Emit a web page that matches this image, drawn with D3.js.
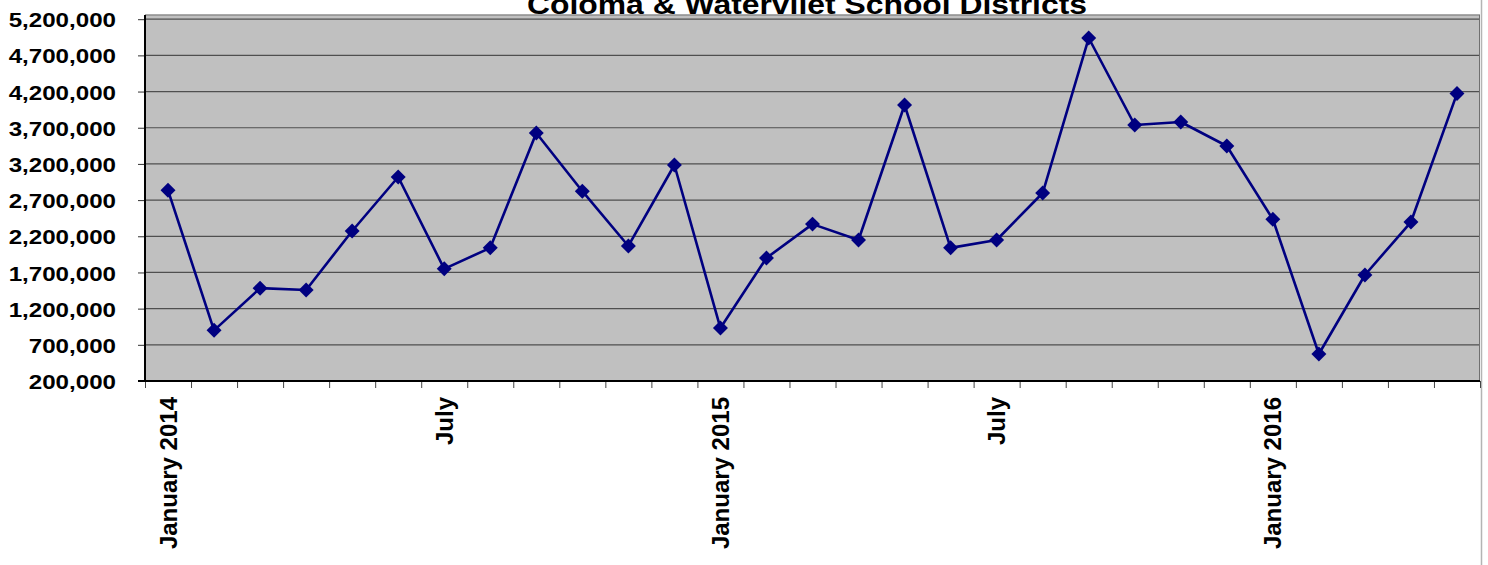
<!DOCTYPE html>
<html>
<head>
<meta charset="utf-8">
<script src="https://cdn.jsdelivr.net/npm/d3@7"></script>
<style>
  body { margin: 0; background: #fff; }
  svg { display: block; }
  text { font-family: "Liberation Sans", Arial, sans-serif; font-weight: bold; fill: #000; }
</style>
</head>
<body>
<div id="chart"></div>
<script>
var w = 1488;
var h = 565;

var months = ['Jan 2014', 'Feb 2014', 'Mar 2014', 'Apr 2014', 'May 2014', 'Jun 2014',
  'Jul 2014', 'Aug 2014', 'Sep 2014', 'Oct 2014', 'Nov 2014', 'Dec 2014',
  'Jan 2015', 'Feb 2015', 'Mar 2015', 'Apr 2015', 'May 2015', 'Jun 2015',
  'Jul 2015', 'Aug 2015', 'Sep 2015', 'Oct 2015', 'Nov 2015', 'Dec 2015',
  'Jan 2016', 'Feb 2016', 'Mar 2016', 'Apr 2016', 'May 2016'];

var values = [2835000, 900000, 1483000, 1458000, 2273000, 3019000,
  1750000, 2040000, 3627000, 2823000, 2066000, 3185000,
  932000, 1900000, 2368000, 2149000, 4014000, 2040000,
  2149000, 2798000, 4940000, 3738000, 3779000, 3448000,
  2435000, 573000, 1665000, 2397000, 4172000];

var labelMonths = ['Jan 2014', 'Jul 2014', 'Jan 2015', 'Jul 2015', 'Jan 2016'];
var labelTexts = ['January 2014', 'July', 'January 2015', 'July', 'January 2016'];

var yTicks = [200000, 700000, 1200000, 1700000, 2200000, 2700000,
  3200000, 3700000, 4200000, 4700000, 5200000];

var title = 'Coloma & Watervliet School Districts';

// plot area edges (note: "top" is a reserved window global, so prefixed names)
var plotLeft = 145, plotRight = 1480, plotTop = 19.2, plotBottom = 381;

var vis = d3.select('#chart')
  .append('svg')
  .attr('width', w)
  .attr('height', h);

var x = d3.scaleBand().domain(months).range([plotLeft, plotRight]);
var xEdge = d3.scaleLinear().domain([0, months.length]).range([plotLeft, plotRight]);
var y = d3.scaleLinear().domain([200000, 5200000]).range([plotBottom, plotTop]);

// chart area border on the right
vis.append('line')
  .attr('x1', 1481.5).attr('x2', 1481.5)
  .attr('y1', 0).attr('y2', h)
  .style('stroke', '#b4b4b4')
  .style('stroke-width', 1.5);

// plot area
vis.append('rect')
  .attr('x', plotLeft).attr('y', 15)
  .attr('width', plotRight - plotLeft).attr('height', plotBottom - 15)
  .style('fill', '#c0c0c0');

vis.append('line')
  .attr('x1', plotLeft).attr('x2', plotRight)
  .attr('y1', 15).attr('y2', 15)
  .style('stroke', '#8c8c8c')
  .style('stroke-width', 1.5);

vis.selectAll('line.grid')
  .data(yTicks)
  .enter()
  .append('line')
  .attr('class', 'grid')
  .attr('x1', plotLeft).attr('x2', plotRight)
  .attr('y1', function (d) { return y(d); })
  .attr('y2', function (d) { return y(d); })
  .style('stroke', '#4f4f4f')
  .style('stroke-width', 1.2);

vis.append('line')
  .attr('x1', plotRight - 0.5).attr('x2', plotRight - 0.5)
  .attr('y1', 15).attr('y2', plotBottom)
  .style('stroke', '#707070')
  .style('stroke-width', 1);

// y axis
var yAxis = vis.append('g')
  .attr('transform', 'translate(' + plotLeft + ',0)')
  .call(d3.axisLeft(y).tickValues(yTicks).tickSize(7).tickFormat(d3.format(',')));
yAxis.select('.domain').remove();
yAxis.selectAll('.tick line').style('stroke', '#333');
yAxis.selectAll('.tick text')
  .attr('x', null)
  .attr('dy', '0.36em')
  .attr('transform', 'translate(-29,0) scale(1.15,1)')
  .style('font-size', '21px');

vis.append('line')
  .attr('x1', plotLeft).attr('x2', plotLeft)
  .attr('y1', 15).attr('y2', plotBottom)
  .style('stroke', '#000')
  .style('stroke-width', 2);

// x axis: tick marks between months
var xTickAxis = vis.append('g')
  .attr('transform', 'translate(0,' + plotBottom + ')')
  .call(d3.axisBottom(xEdge).tickValues(d3.range(0, months.length + 1)).tickSize(7).tickFormat(''));
xTickAxis.select('.domain').remove();
xTickAxis.selectAll('.tick line').style('stroke', '#444');

vis.append('line')
  .attr('x1', plotLeft - 7).attr('x2', plotRight)
  .attr('y1', plotBottom).attr('y2', plotBottom)
  .style('stroke', '#000')
  .style('stroke-width', 2);

// x axis: month labels
var xLabelAxis = vis.append('g')
  .attr('transform', 'translate(0,' + plotBottom + ')')
  .call(d3.axisBottom(x).tickValues(labelMonths).tickSize(0)
    .tickFormat(function (d, i) { return labelTexts[i]; }));
xLabelAxis.select('.domain').remove();
xLabelAxis.selectAll('.tick text')
  .attr('transform', 'rotate(-90)')
  .attr('text-anchor', 'end')
  .attr('x', -16)
  .attr('y', 0)
  .attr('dy', '0.36em')
  .style('font-size', '24px');

// series
var data = months.map(function (m, i) { return { month: m, value: values[i] }; });

var line = d3.line()
  .x(function (d) { return x(d.month) + x.bandwidth() / 2; })
  .y(function (d) { return y(d.value); });

vis.append('path')
  .datum(data)
  .attr('d', line)
  .style('fill', 'none')
  .style('stroke', '#000080')
  .style('stroke-width', 2.6)
  .style('stroke-linejoin', 'round');

vis.selectAll('path.marker')
  .data(data)
  .enter()
  .append('path')
  .attr('class', 'marker')
  .attr('d', d3.symbol().type(d3.symbolSquare).size(112))
  .attr('transform', function (d) {
    return 'translate(' + (x(d.month) + x.bandwidth() / 2) + ',' + y(d.value) + ') rotate(45)';
  })
  .style('fill', '#000080');

// title (cut off at the top as in the source image)
vis.append('text')
  .attr('x', 807)
  .attr('y', 13.5)
  .attr('text-anchor', 'middle')
  .attr('textLength', 560)
  .attr('lengthAdjust', 'spacingAndGlyphs')
  .style('font-size', '28px')
  .text(title);
</script>
</body>
</html>
